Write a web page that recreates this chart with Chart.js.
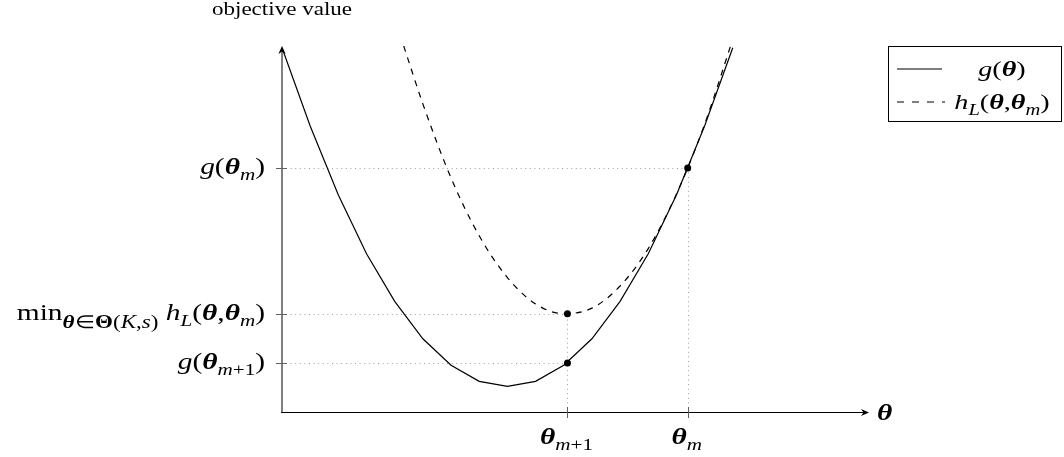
<!DOCTYPE html>
<html><head><meta charset="utf-8">
<script src="https://cdn.jsdelivr.net/npm/chart.js@4.4.0/dist/chart.umd.min.js"></script>
<style>html,body{margin:0;padding:0;background:#fff;overflow:hidden}#wrap{width:1064px;height:457px;position:relative}</style>
</head><body><div id="wrap"><canvas id="c" width="1064" height="457"></canvas></div>
<script>
// ---- data ----
const thetaX  = [0,0.25,0.5,0.75,1,1.25,1.5,1.75,2,2.25,2.5,2.75,3,3.25,3.5,3.75,4];
const gValues = [4.28,3.36,2.55,1.86,1.30,0.86,0.55,0.36,0.30,0.36,0.55,0.86,1.30,1.86,2.55,3.36,4.28];
const hX      = [1.08,1.25,1.5,1.75,2,2.25,2.5,2.75,3,3.25,3.5,3.75,4];
const hValues = [4.30,3.62,2.75,2.07,1.58,1.27,1.155,1.22,1.48,1.92,2.56,3.38,4.38];
const markX   = [2.533,2.533,3.6];
const markY   = [0.577,1.154,2.867];
const xTickValues = [2.533,3.6];
const yTickValues = [2.867,1.154,0.577];
const xRange = [0,5.2];
const yRange = [0,4.3];
// tick labels as [text, style, subscript?]
const xTickLabels = [
  [['θ','bi'],['m','i',1],['+1','n',1]],
  [['θ','bi'],['m','i',1]]
];
const yTickLabels = [
  [['g','i'],['(','n'],['θ','bi'],['m','i',1],[')','n']],
  [['min','n'],['θ','bi',2],['∈','n',2],['Θ','b',2],['(','n',2],['K','i',2],[',','n',2],['s','i',2],[')','n',2],[' ','n'],['h','i'],['L','i',1],['(','n'],['θ','bi'],[',','n'],['θ','bi'],['m','i',1],[')','n']],
  [['g','i'],['(','n'],['θ','bi'],['m','i',1],['+1','n',1],[')','n']]
];
const legendLabels = [
  [['g','i'],['(','n'],['θ','bi'],[')','n']],
  [['h','i'],['L','i',1],['(','n'],['θ','bi'],[',','n'],['θ','bi'],['m','i',1],[')','n']]
];
const xAxisTitle = [['θ','bi']];
const yAxisTitle = 'objective value';

// ---- drawing helpers ----
const FAM = '"Liberation Serif", "Times New Roman", serif';
const SX = 1.28;
const MS = 23, SS = 16.5;
function fontFor(style, size){
  const s = style==='bi'?'italic bold ':style==='i'?'italic ':style==='b'?'bold ':'';
  return s + size + 'px ' + FAM;
}
function subSize(sub, ss){ return sub===2 ? ss+1.5 : ss; }
function mathWidth(ctx, parts, ms, ss){
  let w=0;
  for(const p of parts){ ctx.font = fontFor(p[1], p[2]?subSize(p[2],ss):ms); w += ctx.measureText(p[0]).width*SX; }
  return w;
}
function drawMath(ctx, parts, x, y, align, ms, ss){
  ms = ms||MS; ss = ss||SS;
  const w = mathWidth(ctx, parts, ms, ss);
  let cx = align==='right'? x-w : align==='center'? x-w/2 : x;
  ctx.fillStyle='#000'; ctx.textBaseline='alphabetic'; ctx.textAlign='left';
  for(const p of parts){
    const sub = p[2]||0;
    ctx.font = fontFor(p[1], sub?subSize(sub,ss):ms);
    const dy = sub===1?6:sub===2?8:0;
    ctx.save(); ctx.translate(cx, y+dy); ctx.scale(SX,1); ctx.fillText(p[0],0,0); ctx.restore();
    cx += ctx.measureText(p[0]).width*SX;
  }
}
function arrow(ctx, tx, ty, dir){
  ctx.save(); ctx.translate(tx,ty); ctx.rotate(dir);
  ctx.fillStyle='#000'; ctx.beginPath();
  ctx.moveTo(0,0); ctx.lineTo(-8,-3.6); ctx.lineTo(-5.5,0); ctx.lineTo(-8,3.6); ctx.closePath(); ctx.fill();
  ctx.restore();
}

const decor = {
  id:'decor',
  beforeDatasetsDraw(chart){
    const ctx=chart.ctx, xs=chart.scales.x, ys=chart.scales.y;
    const x0=xs.getPixelForValue(xRange[0]), y0=ys.getPixelForValue(yRange[0]);
    ctx.save();
    ctx.strokeStyle='#a0a0a0'; ctx.lineWidth=1; ctx.setLineDash([1,3.6]);
    for(let i=0;i<yTickValues.length;i++){
      const py=Math.round(ys.getPixelForValue(yTickValues[i]))+0.5;
      const px=xs.getPixelForValue(i===0?markX[2]:markX[i-1]);
      ctx.beginPath(); ctx.moveTo(x0+4,py); ctx.lineTo(px,py); ctx.stroke();
    }
    for(let i=0;i<xTickValues.length;i++){
      const px=Math.round(xs.getPixelForValue(xTickValues[i]))+0.5;
      const py=ys.getPixelForValue(i===0?markY[1]:markY[2]);
      ctx.beginPath(); ctx.moveTo(px,y0-4); ctx.lineTo(px,py); ctx.stroke();
    }
    ctx.setLineDash([]);
    ctx.restore();
  },
  afterDatasetsDraw(chart){
    const ctx=chart.ctx, xs=chart.scales.x, ys=chart.scales.y;
    const x0=xs.getPixelForValue(xRange[0]), y0=ys.getPixelForValue(yRange[0]);
    const top=ys.getPixelForValue(yRange[1]), right=xs.getPixelForValue(xRange[1]);
    ctx.save();
    ctx.strokeStyle='#808080'; ctx.lineWidth=2;
    ctx.beginPath(); ctx.moveTo(x0,y0); ctx.lineTo(x0,top+5); ctx.stroke();
    arrow(ctx,x0,top,-Math.PI/2);
    ctx.strokeStyle='#000'; ctx.lineWidth=1.1;
    ctx.beginPath(); ctx.moveTo(x0-1,y0+0.5); ctx.lineTo(right-3,y0+0.5); ctx.stroke();
    arrow(ctx,right+1,y0+0.5,0);
    ctx.strokeStyle='#606060'; ctx.lineWidth=1;
    for(const v of yTickValues){ const py=Math.round(ys.getPixelForValue(v))+0.5; ctx.beginPath(); ctx.moveTo(x0-6,py); ctx.lineTo(x0+5,py); ctx.stroke(); }
    for(const v of xTickValues){ const px=Math.round(xs.getPixelForValue(v))+0.5; ctx.beginPath(); ctx.moveTo(px,y0-5); ctx.lineTo(px,y0+6); ctx.stroke(); }
    for(let i=0;i<yTickValues.length;i++){ drawMath(ctx,yTickLabels[i],x0-17,ys.getPixelForValue(yTickValues[i])+6,'right'); }
    for(let i=0;i<xTickValues.length;i++){ drawMath(ctx,xTickLabels[i],xs.getPixelForValue(xTickValues[i])-1,y0+32,'center'); }
    drawMath(ctx,xAxisTitle,right+9,y0+8,'left');
    ctx.font='18px '+FAM; ctx.fillStyle='#000';
    const tw=ctx.measureText(yAxisTitle).width*SX;
    ctx.save(); ctx.translate(x0-tw/2,15); ctx.scale(SX,1); ctx.fillText(yAxisTitle,0,0); ctx.restore();
    const lx=888.5, ly=46.5, lw=173, lh=75;
    ctx.strokeStyle='#000'; ctx.lineWidth=1; ctx.strokeRect(lx,ly,lw,lh);
    ctx.lineWidth=1.2;
    ctx.beginPath(); ctx.moveTo(897,69); ctx.lineTo(942,69); ctx.stroke();
    ctx.setLineDash([7,8]); ctx.beginPath(); ctx.moveTo(897,102); ctx.lineTo(945,102); ctx.stroke(); ctx.setLineDash([]);
    drawMath(ctx,legendLabels[0],1002,76,'center',22,16);
    drawMath(ctx,legendLabels[1],1002,109,'center',22,16);
    ctx.restore();
  }
};

new Chart(document.getElementById('c'),{
  type:'scatter',
  data:{datasets:[
    {label:'marks',data:markX.map((x,i)=>({x,y:markY[i]})),showLine:false,pointRadius:3.5,pointBackgroundColor:'#000',pointBorderWidth:0,order:0},
    {label:'g',data:thetaX.map((x,i)=>({x,y:gValues[i]})),showLine:true,borderColor:'#000',borderWidth:1.2,pointRadius:0,tension:0,clip:0,order:1},
    {label:'h',data:hX.map((x,i)=>({x,y:hValues[i]})),showLine:true,borderColor:'#000',borderWidth:1.2,borderDash:[6,6],pointRadius:0,cubicInterpolationMode:'monotone',clip:0,order:2}
  ]},
  options:{
    responsive:false,animation:false,devicePixelRatio:1,
    layout:{padding:{left:282,right:196,top:46,bottom:45}},
    plugins:{legend:{display:false},tooltip:{enabled:false}},
    scales:{
      x:{type:'linear',min:xRange[0],max:xRange[1],display:false},
      y:{type:'linear',min:yRange[0],max:yRange[1],display:false}
    }
  },
  plugins:[decor]
});
</script></body></html>
